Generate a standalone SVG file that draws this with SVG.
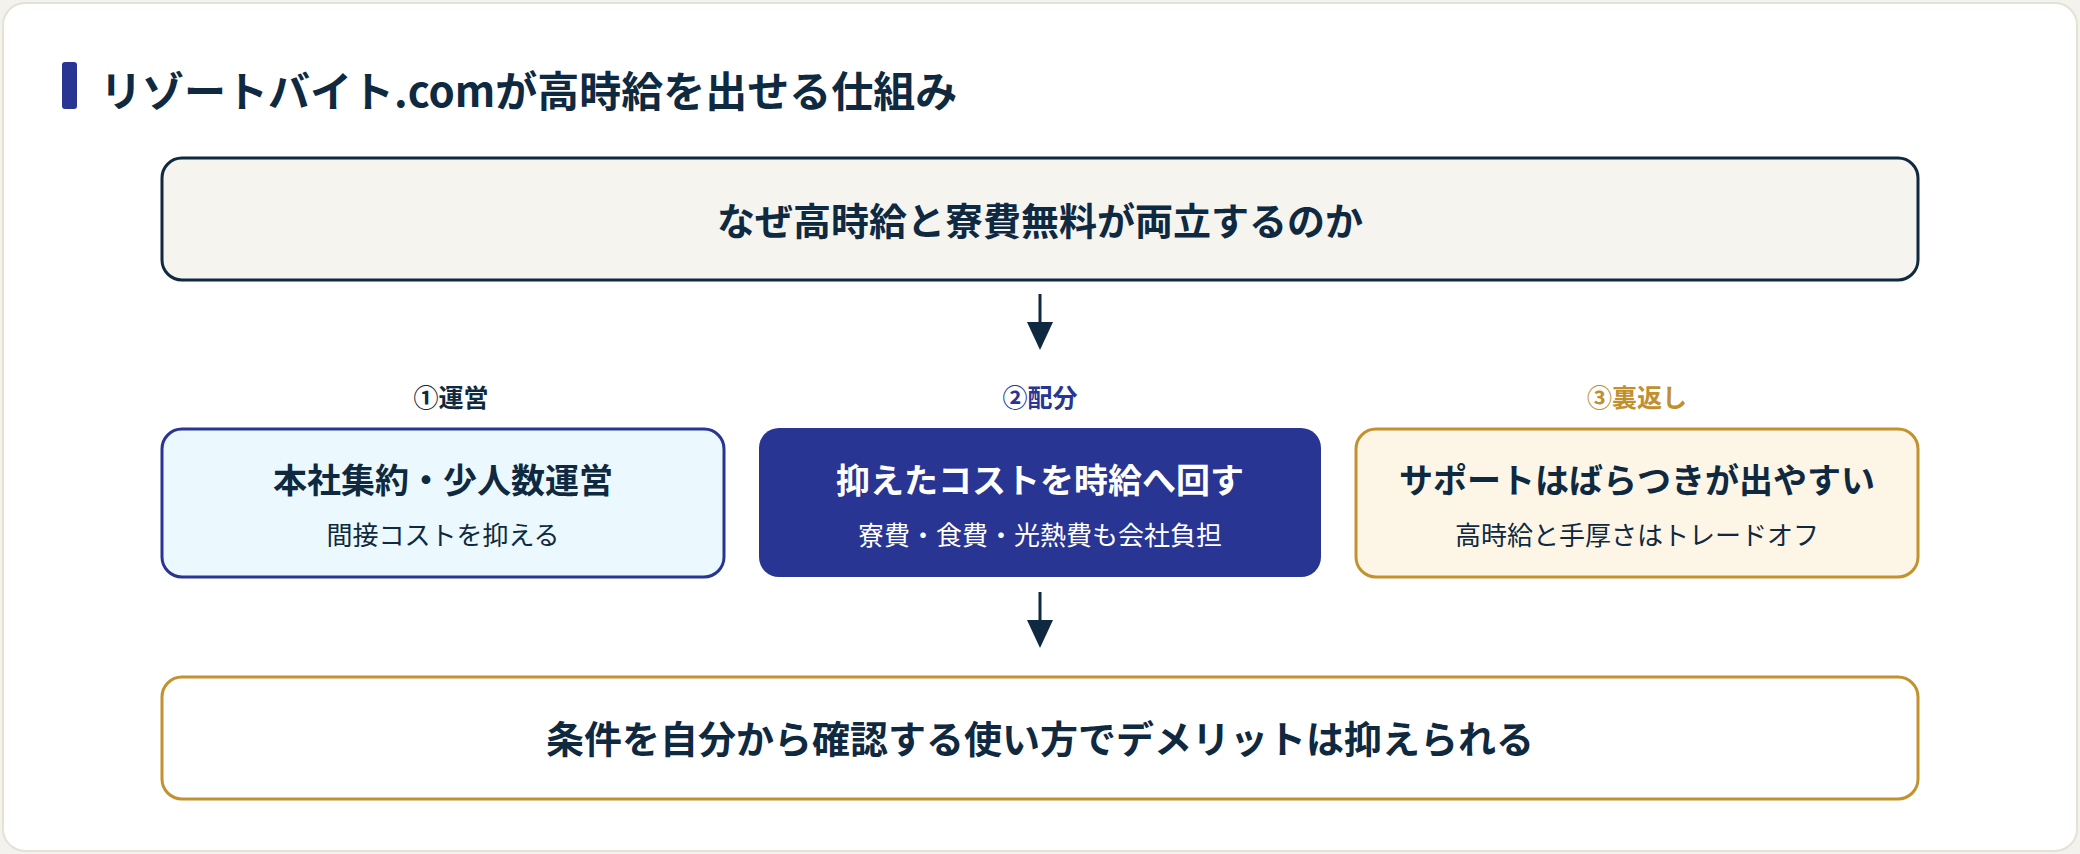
<svg xmlns="http://www.w3.org/2000/svg" width="2080" height="854" viewBox="0 0 2080 854">
<defs>
<style>
text{font-family:"Noto Sans CJK JP","Noto Sans",sans-serif;text-anchor:middle;fill:#0f2940}
.h{font-size:38px;font-weight:700}
.t{font-size:34px;font-weight:700}
.s{font-size:26px}
.l{font-size:25px;font-weight:700}
</style>
</defs>
<rect width="2080" height="854" fill="#f3f2ec"/>
<rect x="3" y="3" width="2074" height="848" rx="22" fill="#fff" stroke="#e4e2d6" stroke-width="2"/>
<g id="title">
<rect x="62" y="62" width="15" height="47" rx="3" fill="#283593"/>
<text x="100" y="107" style="text-anchor:start;font-size:42px;font-weight:700">リゾートバイト.comが高時給を出せる仕組み</text>
</g>
<g id="connectors" stroke="#0f2940" stroke-width="3">
<line x1="1040" y1="294" x2="1040" y2="324"/>
<path d="M1027,322L1053,322L1040,350Z" fill="#0f2940" stroke="none"/>
<line x1="1040" y1="592" x2="1040" y2="622"/>
<path d="M1027,620L1053,620L1040,648Z" fill="#0f2940" stroke="none"/>
</g>
<g id="top">
<rect x="162" y="158" width="1756" height="122" rx="20" fill="#f5f4ef" stroke="#0f2940" stroke-width="3"/>
<text x="1040" y="235" class="h">なぜ高時給と寮費無料が両立するのか</text>
</g>
<g id="n1">
<text x="451" y="407" class="l">①運営</text>
<rect x="162" y="429" width="562" height="148" rx="20" fill="#ebf8fd" stroke="#283593" stroke-width="3"/>
<text x="443" y="493" class="t">本社集約・少人数運営</text>
<text x="443" y="545" class="s">間接コストを抑える</text>
</g>
<g id="n2">
<text x="1040" y="407" class="l" style="fill:#283593">②配分</text>
<rect x="759" y="428" width="562" height="149" rx="20" fill="#283593"/>
<text x="1040" y="493" class="t" style="fill:#fff">抑えたコストを時給へ回す</text>
<text x="1040" y="545" class="s" style="fill:#fff">寮費・食費・光熱費も会社負担</text>
</g>
<g id="n3">
<text x="1637" y="407" class="l" style="fill:#c0902f">③裏返し</text>
<rect x="1356" y="429" width="562" height="148" rx="20" fill="#fdf6e6" stroke="#c3922e" stroke-width="3"/>
<text x="1637" y="493" class="t">サポートはばらつきが出やすい</text>
<text x="1637" y="545" class="s">高時給と手厚さはトレードオフ</text>
</g>
<g id="bottom">
<rect x="162" y="677" width="1756" height="122" rx="20" fill="#fff" stroke="#c3922e" stroke-width="3"/>
<text x="1040" y="753" class="h">条件を自分から確認する使い方でデメリットは抑えられる</text>
</g>
</svg>
